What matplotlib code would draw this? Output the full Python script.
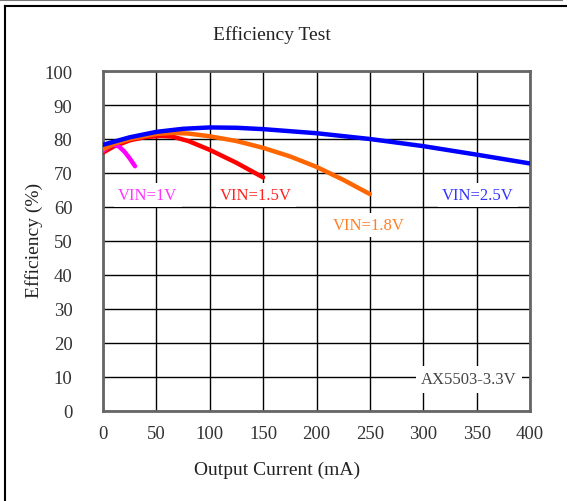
import matplotlib
matplotlib.use("Agg")
import matplotlib.pyplot as plt
from matplotlib.lines import Line2D

plt.rcParams['font.family'] = ['Liberation Serif', 'DejaVu Serif']

# Data (output current mA, efficiency %)
x_1v = [0, 5, 10, 15, 20, 25, 30]
y_1v = [76.5, 77.8, 78.3, 77.8, 76.3, 74.3, 72.0]

x_15v = [0, 10, 25, 40, 55, 65, 80, 100, 125, 150]
y_15v = [76.0, 77.8, 79.6, 80.6, 80.9, 80.7, 79.4, 76.8, 73.0, 68.7]

x_18v = [0, 10, 25, 50, 65, 80, 100, 125, 150, 175, 200, 225, 250]
y_18v = [77.0, 78.5, 80.0, 81.5, 81.8, 81.6, 80.8, 79.4, 77.4, 74.9, 71.8, 68.0, 63.8]

x_25v = [0, 25, 50, 75, 100, 125, 150, 200, 250, 300, 350, 400]
y_25v = [78.3, 80.5, 82.1, 83.0, 83.4, 83.3, 82.9, 81.7, 80.0, 77.9, 75.4, 72.8]

xticks = [0, 50, 100, 150, 200, 250, 300, 350, 400]
yticks = [0, 10, 20, 30, 40, 50, 60, 70, 80, 90, 100]

W, H = 567, 502
fig = plt.figure(figsize=(W / 100, H / 100), dpi=100)
ax = fig.add_axes([103 / W, (H - 412) / H, (530 - 103) / W, (412 - 72) / H])

ax.set_xlim(0, 400)
ax.set_ylim(0, 100)
ax.set_xticks(xticks)
ax.set_yticks(yticks)
ax.grid(True, color='black', linewidth=1.0)
ax.set_axisbelow(True)
ax.tick_params(length=0, labelsize=13.5, colors='#333333')
ax.tick_params(axis='y', pad=22)
ax.tick_params(axis='x', pad=10)
for s in ax.spines.values():
    s.set_color('#666666')
    s.set_linewidth(2)

lw = 3.2
ax.plot(x_25v, y_25v, color='#0000ff', lw=lw, solid_capstyle='round', zorder=5)
ax.plot(x_18v, y_18v, color='#ff6600', lw=lw, solid_capstyle='round', zorder=4)
ax.plot(x_15v, y_15v, color='#ff0000', lw=lw, solid_capstyle='round', zorder=3)
ax.plot(x_1v, y_1v, color='#ff00ff', lw=lw, solid_capstyle='round', zorder=3)

box = dict(facecolor='white', edgecolor='none', pad=3)
ax.text(42, 63.6, 'VIN=1V', color='#ff33ff', fontsize=12, ha='center', va='center', bbox=box, zorder=6)
ax.text(143, 63.6, 'VIN=1.5V', color='#ff2020', fontsize=12, ha='center', va='center', bbox=box, zorder=6)
ax.text(249, 54.8, 'VIN=1.8V', color='#ff7f27', fontsize=12, ha='center', va='center', bbox=box, zorder=6)
ax.text(351, 63.6, 'VIN=2.5V', color='#3333ff', fontsize=12, ha='center', va='center', bbox=box, zorder=6)
ax.text(343, 9.4, 'AX5503-3.3V', color='#444444', fontsize=12, ha='center', va='center',
        bbox=dict(facecolor='white', edgecolor='none', pad=4), zorder=6)

fig.text(272 / W, 1 - 35 / H, 'Efficiency Test', fontsize=14, ha='center', va='center', color='#222222')
fig.text(277 / W, 1 - 470 / H, 'Output Current (mA)', fontsize=14, ha='center', va='center', color='#222222')
fig.text(34 / W, 1 - 240 / H, 'Efficiency (%)', fontsize=14, ha='center', va='center',
         rotation=90, color='#222222')

# outer frame lines
fig.add_artist(Line2D([0, 562 / W], [1 - 0.8 / H, 1 - 0.8 / H], color='#777777', lw=1.5, transform=fig.transFigure))
fig.add_artist(Line2D([5 / W, 1], [1 - 7 / H, 1 - 7 / H], color='black', lw=1.5, transform=fig.transFigure))
fig.add_artist(Line2D([5 / W, 5 / W], [0, 1 - 7 / H], color='black', lw=1.5, transform=fig.transFigure))

fig.savefig('out.png', dpi=100)
